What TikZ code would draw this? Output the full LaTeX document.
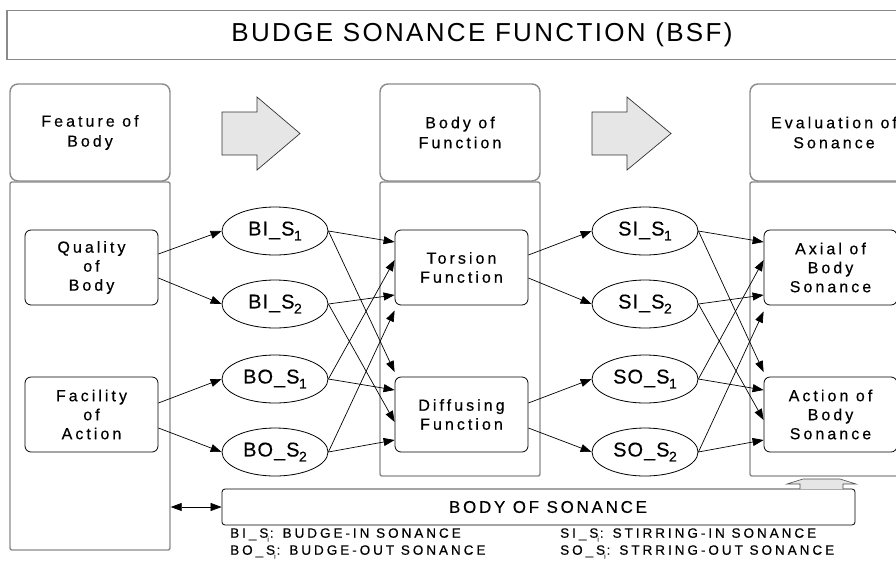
\documentclass[tikz,border=0pt]{standalone}
\usepackage{fontspec}
\setmainfont{Liberation Sans}
\newfontfamily\wideA[LetterSpace=19,FakeBold=0.4]{Liberation Sans}
\newfontfamily\wideB[LetterSpace=5,FakeBold=0.3]{Liberation Sans}
\newfontfamily\wideC[LetterSpace=16,FakeBold=0.3]{Liberation Sans}
\newfontfamily\wideD[LetterSpace=22,FakeBold=0.5]{Liberation Sans}
\newfontfamily\wideT[LetterSpace=9]{Liberation Sans}
\usetikzlibrary{arrows.meta,shapes.geometric}
\definecolor{boxgray}{RGB}{138,138,138}
\definecolor{arrowfill}{RGB}{230,230,230}
\newcommand{\ellsub}[1]{\kern-0.5pt\raisebox{-5pt}{\fontsize{14}{14}\selectfont #1}}
\newcommand{\legsub}{\kern-1pt\raisebox{-4pt}{\fontsize{7}{7}\selectfont i}\kern1pt}
\begin{document}
\begin{tikzpicture}[x=1pt,y=-1pt,
  titlebox/.style={draw=boxgray, line width=1.4pt, minimum width=950pt, minimum height=49pt, font=\fontsize{26}{28}\wideT\selectfont},
  hdr/.style={draw=boxgray, line width=1.4pt, rounded corners=8pt, minimum width=160pt, minimum height=97pt, align=center, font=\fontsize{16}{20}\wideA\selectfont},
  colbody/.style={draw=boxgray, line width=1.4pt, rounded corners=2pt, minimum width=160pt},
  inbox/.style={draw=black, line width=0.8pt, rounded corners=6pt, minimum width=133pt, minimum height=75pt, align=center, font=\fontsize{16}{19}\wideA\selectfont},
  ell/.style={ellipse, draw=black, line width=0.8pt, minimum width=106pt, minimum height=48pt, inner sep=0pt, font=\fontsize{20}{22}\wideB\selectfont},
  conn/.style={-{Triangle[length=11pt,width=8pt]}, line width=0.7pt},
  bigarrow/.style={draw=black!80, fill=arrowfill, line width=0.7pt},
  legend/.style={anchor=west, inner sep=0pt, font=\fontsize{13.5}{15}\wideD\selectfont}
]
\useasboundingbox (0,0) rectangle (896,560);

% title
\node[titlebox] (title) at (482,35) {BUDGE SONANCE FUNCTION (BSF)};

% column headers
\node[hdr] (hA) at (90,132.5) {Feature of\\Body};
\node[hdr] (hB) at (460,132.5) {Body of\\Function};
\node[hdr, minimum width=168pt] (hC) at (834,132.5) {Evaluation of\\Sonance};

% column bodies
\node[colbody, minimum height=368pt] (cA) at (90,366) {};
\node[colbody, minimum height=294pt] (cB) at (460,329) {};
\node[colbody, minimum height=294pt, minimum width=168pt] (cC) at (834,329) {};

% big gray arrows
\draw[bigarrow] (222,112) -- (257,112) -- (257,97) -- (300,133.5) -- (257,170) -- (257,155) -- (222,155) -- cycle;
\draw[bigarrow] (592,112) -- (627,112) -- (627,97) -- (671,133.5) -- (627,170) -- (627,155) -- (592,155) -- cycle;

% inner boxes
\node[inbox] (q) at (91.5,267.5) {Quality\\of\\Body};
\node[inbox] (f) at (91.5,414.5) {Facility\\of\\Action};
\node[inbox] (tor) at (461.5,267.5) {Torsion\\Function};
\node[inbox] (dif) at (461.5,414.5) {Diffusing\\Function};
\node[inbox] (ax) at (830.5,267.5) {Axial of\\Body\\Sonance};
\node[inbox] (ac) at (830.5,414.5) {Action of\\Body\\Sonance};

% ellipses
\node[ell] (bi1) at (275,231) {BI\_S\ellsub{1}};
\node[ell] (bi2) at (275,304) {BI\_S\ellsub{2}};
\node[ell] (bo1) at (275,379) {BO\_S\ellsub{1}};
\node[ell] (bo2) at (275,452) {BO\_S\ellsub{2}};
\node[ell] (si1) at (645,231) {SI\_S\ellsub{1}};
\node[ell] (si2) at (645,304) {SI\_S\ellsub{2}};
\node[ell] (so1) at (645,379) {SO\_S\ellsub{1}};
\node[ell] (so2) at (645,452) {SO\_S\ellsub{2}};

% left feature -> ellipses
\draw[conn] ([yshift=13.5pt]q.east) -- (bi1.west);
\draw[conn] ([yshift=-10.5pt]q.east) -- (bi2.west);
\draw[conn] ([yshift=11.5pt]f.east) -- (bo1.west);
\draw[conn] ([yshift=-13.5pt]f.east) -- (bo2.west);

% ellipses -> function boxes
\draw[conn] (bi1.east) -- ([yshift=25.5pt]tor.west);
\draw[conn] (bo1.east) -- ([yshift=7.5pt]tor.west);
\draw[conn] (bi2.east) -- ([yshift=-27.5pt]tor.west);
\draw[conn] (bo2.east) -- ([yshift=-43pt]tor.west);
\draw[conn] (bi1.east) -- ([yshift=42.5pt]dif.west);
\draw[conn] (bo1.east) -- ([yshift=24.5pt]dif.west);
\draw[conn] (bi2.east) -- ([yshift=-7.5pt]dif.west);
\draw[conn] (bo2.east) -- ([yshift=-25.5pt]dif.west);

% function boxes -> ellipses
\draw[conn] ([yshift=12.5pt]tor.east) -- (si1.west);
\draw[conn] ([yshift=-10.5pt]tor.east) -- (si2.west);
\draw[conn] ([yshift=11.5pt]dif.east) -- (so1.west);
\draw[conn] ([yshift=-13.5pt]dif.east) -- (so2.west);

% ellipses -> evaluation boxes
\draw[conn] (si1.east) -- ([yshift=25.5pt]ax.west);
\draw[conn] (so1.east) -- ([yshift=7.5pt]ax.west);
\draw[conn] (si2.east) -- ([yshift=-27.5pt]ax.west);
\draw[conn] (so2.east) -- ([yshift=-44pt]ax.west);
\draw[conn] (si1.east) -- ([yshift=42.5pt]ac.west);
\draw[conn] (so1.east) -- ([yshift=24.5pt]ac.west);
\draw[conn] (si2.east) -- ([yshift=-5.5pt]ac.west);
\draw[conn] (so2.east) -- ([yshift=-25.5pt]ac.west);

% body of sonance
\node[draw=black, line width=0.8pt, rounded corners=3pt, minimum width=633pt, minimum height=36pt, font=\fontsize{17}{20}\wideC\selectfont] (bos) at (538.5,507) {\hspace*{19pt}BODY OF SONANCE};
\draw[{Triangle[length=11pt,width=8pt]}-{Triangle[length=11pt,width=8pt]}, line width=0.7pt] (cA.east |- bos.west) -- (bos.west);

% small gray up arrow
\draw[draw=black!70, fill=arrowfill, line width=0.6pt] (800,489) -- (800,484) -- (787,484) -- (803,479) -- (840,479) -- (856,484) -- (843,484) -- (843,489);

% legend
\node[legend] (l1) at (230,535) {BI\_S\legsub : BUDGE-IN SONANCE};
\node[legend] (l2) at (230,552) {BO\_S\legsub: BUDGE-OUT SONANCE};
\node[legend] (l3) at (560,535) {SI\_S\legsub : STIRRING-IN SONANCE};
\node[legend] (l4) at (560,552) {SO\_S\legsub: STRRING-OUT SONANCE};
\end{tikzpicture}
\end{document}
